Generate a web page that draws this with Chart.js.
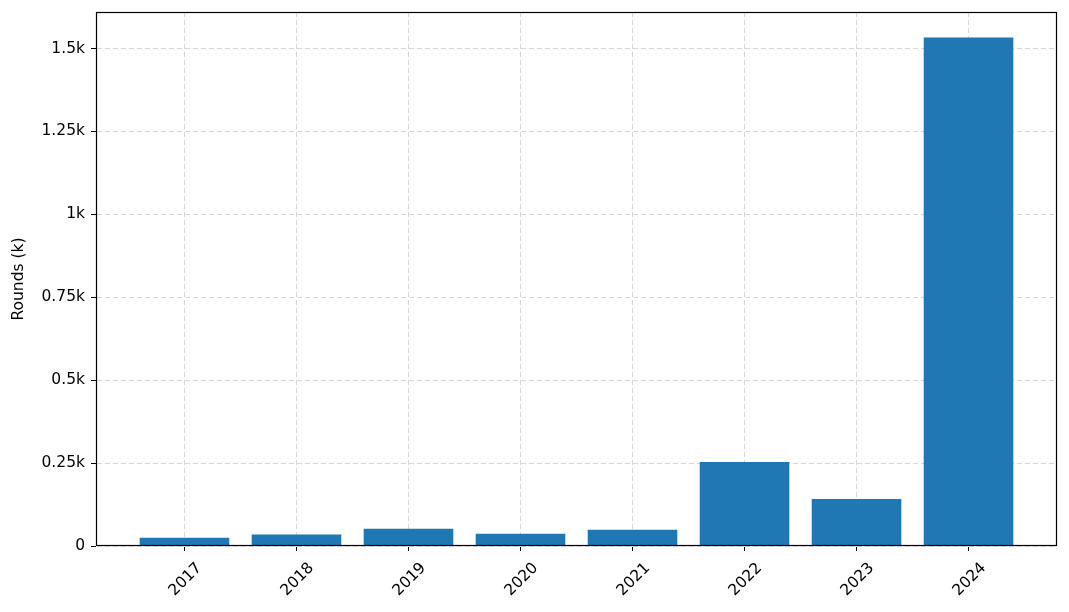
<!DOCTYPE html>
<html>
<head>
<meta charset="utf-8">
<script src="https://cdn.jsdelivr.net/npm/chart.js@4"></script>
<style>
  body { margin: 0; background: #fff; }
</style>
</head>
<body>
<canvas id="chart" width="1069" height="612"></canvas>
<script>
// data (values in thousands)
const years = ['2017', '2018', '2019', '2020', '2021', '2022', '2023', '2024'];
const rounds = [0.025, 0.035, 0.052, 0.037, 0.049, 0.253, 0.142, 1.533];
const yTicks = [0, 0.25, 0.5, 0.75, 1, 1.25, 1.5];

const FONT = 'DejaVu Sans';
const FONT_SIZE = 15.5;
const gridColor = 'rgba(176, 176, 176, 0.5)';

// black frame round the plot area, like a matplotlib axes box
const framePlugin = {
  id: 'frame',
  afterDraw(chart) {
    const { ctx, chartArea } = chart;
    const l = Math.round(chartArea.left) + 0.5;
    const t = Math.round(chartArea.top) + 0.5;
    const r = Math.round(chartArea.right) - 0.5;
    const b = Math.round(chartArea.bottom) - 0.5;
    ctx.save();
    ctx.setLineDash([]);
    ctx.strokeStyle = '#000';
    ctx.lineWidth = 1.2;
    ctx.strokeRect(l, t, r - l, b - t);
    ctx.restore();
  },
};

const ctx = document.getElementById('chart');
// eslint-disable-next-line no-new, no-undef
new Chart(ctx, {
  type: 'bar',
  data: {
    datasets: [
      {
        label: 'Rounds (k)',
        data: rounds.map((v, i) => ({ x: i, y: v })),
        backgroundColor: '#1f77b4',
        borderWidth: 0,
        barPercentage: 0.8,
        categoryPercentage: 1,
      },
    ],
  },
  options: {
    responsive: false,
    animation: false,
    layout: { padding: { left: 0, top: 12, right: 12, bottom: 0 } },
    plugins: {
      legend: { display: false },
      tooltip: { enabled: false },
    },
    scales: {
      x: {
        type: 'linear',
        min: -0.79,
        max: years.length - 1 + 0.79,
        offset: false,
        afterBuildTicks: (axis) => {
          axis.ticks = years.map((_, i) => ({ value: i }));
        },
        afterFit: (axis) => {
          axis.height = 66;
          axis.paddingLeft = 0;
          axis.paddingRight = 0;
        },
        grid: {
          offset: false,
          color: gridColor,
          lineWidth: 1,
          tickColor: '#000',
          tickLength: 5,
          tickWidth: 1,
          tickBorderDash: [],
        },
        border: { display: true, color: 'rgba(0,0,0,0)', dash: [5, 3] },
        ticks: {
          autoSkip: false,
          maxRotation: 45,
          minRotation: 45,
          labelOffset: 15,
          padding: 8,
          color: '#000',
          font: { family: FONT, size: FONT_SIZE },
          callback: (v) => years[v],
        },
      },
      y: {
        min: 0,
        max: 1.61,
        afterBuildTicks: (axis) => {
          axis.ticks = yTicks.map((v) => ({ value: v }));
        },
        afterFit: (axis) => {
          axis.width = 96;
          axis.paddingTop = 0;
          axis.paddingBottom = 0;
        },
        grid: {
          color: gridColor,
          lineWidth: 1,
          tickColor: '#000',
          tickLength: 5,
          tickWidth: 1,
          tickBorderDash: [],
        },
        border: { display: true, color: 'rgba(0,0,0,0)', dash: [5, 3] },
        ticks: {
          padding: 6,
          color: '#000',
          font: { family: FONT, size: FONT_SIZE },
          callback: (v) => (v === 0 ? '0' : `${parseFloat(v.toFixed(2))}k`),
        },
        title: {
          display: true,
          text: 'Rounds (k)',
          color: '#000',
          font: { family: FONT, size: FONT_SIZE },
          padding: { top: 10, bottom: 0 },
        },
      },
    },
  },
  plugins: [framePlugin],
});
</script>
</body>
</html>
